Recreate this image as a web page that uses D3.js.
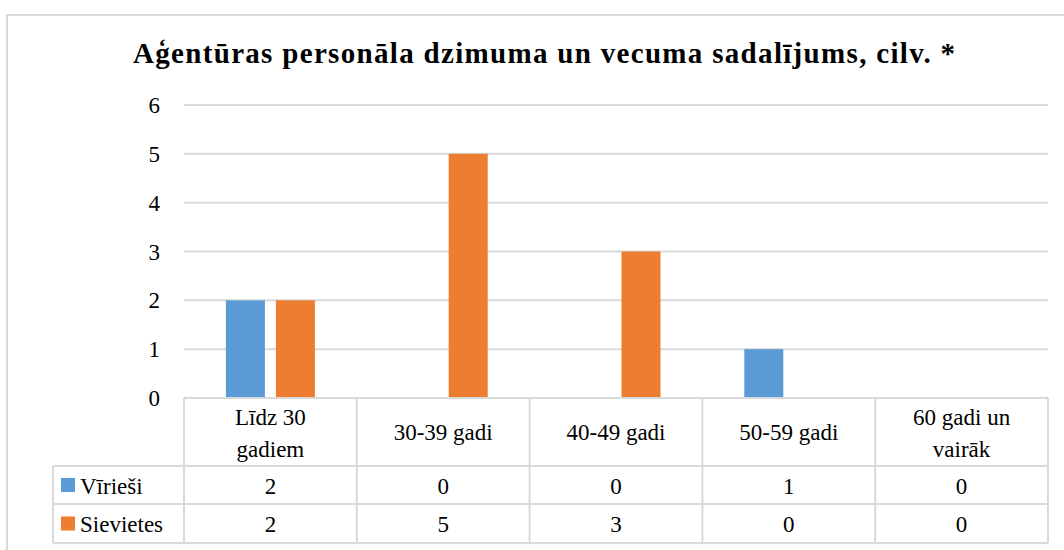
<!DOCTYPE html>
<html><head><meta charset="utf-8">
<script src="https://cdn.jsdelivr.net/npm/d3@7"></script>
<style>body{margin:0;background:#fff;}svg{display:block;}</style>
</head><body>
<script>
const categories = [["Līdz 30","gadiem"],["30-39 gadi"],["40-49 gadi"],["50-59 gadi"],["60 gadi un","vairāk"]];
const seriesNames = ["Vīrieši","Sievietes"];
const virieshi = [2,0,0,1,0];
const sievietes = [2,5,3,0,0];
const yTicks = [0,1,2,3,4,5,6];
const title = "Aģentūras personāla dzimuma un vecuma sadalījums, cilv. *";
const colors = ["#5B9BD5","#ED7D31"];
const series = [virieshi, sievietes];

(function(){
const W = 1064, H = 550;
const FONT = "Liberation Serif, Times New Roman, serif";
const FS = 23;
const svg = d3.select("body").append("svg").attr("width",W).attr("height",H).attr("font-family",FONT);
const grid = "#D9D9D9";
svg.append("rect").attr("x",7).attr("y",15).attr("width",W).attr("height",H).attr("fill","none").attr("stroke",grid).attr("stroke-width",2);

svg.append("text").attr("x",544).attr("y",63).attr("text-anchor","middle")
  .attr("font-weight","bold").attr("font-size",29).attr("fill","#000")
  .attr("textLength",822).attr("lengthAdjust","spacing").text(title);

const pLeft = 184, pRight = 1048, pTop = 105, pBottom = 398;
const x = d3.scaleBand().domain(d3.range(categories.length)).range([pLeft,pRight]);
const y = d3.scaleLinear().domain([0,6]).range([pBottom,pTop]);

svg.append("g").selectAll("line").data(yTicks.filter(d=>d>0)).join("line")
  .attr("x1",pLeft).attr("x2",pRight).attr("y1",d=>y(d)).attr("y2",d=>y(d))
  .attr("stroke",grid).attr("stroke-width",2);
svg.append("g").selectAll("text").data(yTicks).join("text")
  .attr("x",160).attr("y",d=>y(d)+8).attr("text-anchor","end")
  .attr("font-size",FS).attr("fill","#000").text(d=>d);

const barW = 39, gap = 11;
const xs = d3.scaleBand().domain([0,1]).range([0, barW*2+gap]).paddingInner(gap/(barW+gap)).paddingOuter(0);
series.forEach((s,si)=>{
  svg.append("g").selectAll("rect").data(s).join("rect")
    .attr("x",(d,i)=>x(i)+x.bandwidth()/2-(barW*2+gap)/2+xs(si))
    .attr("width",xs.bandwidth())
    .attr("y",d=>y(d)).attr("height",d=>y(0)-y(d))
    .attr("fill",colors[si]);
});

const rowTops = [398,466,504,543];
const legendLeft = 53;
const tg = svg.append("g").attr("stroke",grid).attr("stroke-width",2).attr("fill","none");
tg.append("line").attr("x1",pLeft).attr("x2",pRight).attr("y1",rowTops[0]).attr("y2",rowTops[0]);
[1,2,3].forEach(r=>tg.append("line").attr("x1",legendLeft).attr("x2",pRight).attr("y1",rowTops[r]).attr("y2",rowTops[r]));
tg.append("line").attr("x1",legendLeft).attr("x2",legendLeft).attr("y1",rowTops[1]).attr("y2",rowTops[3]);
d3.range(categories.length+1).forEach(i=>{
  const xx = i<categories.length ? x(i) : pRight;
  tg.append("line").attr("x1",xx).attr("x2",xx).attr("y1",rowTops[0]).attr("y2",rowTops[3]);
});
categories.forEach((c,i)=>{
  const cx = x(i)+x.bandwidth()/2;
  const t = svg.append("text").attr("text-anchor","middle").attr("font-size",FS).attr("fill","#000");
  if(c.length===1){
    t.append("tspan").attr("x",cx).attr("y",440).text(c[0]);
  } else {
    t.append("tspan").attr("x",cx).attr("y",425).text(c[0]);
    t.append("tspan").attr("x",cx).attr("y",457).text(c[1]);
  }
});
const rowBase = [494,532];
series.forEach((s,si)=>{
  const cy = (rowTops[si+1]+rowTops[si+2])/2;
  svg.append("rect").attr("x",61).attr("y",cy-7).attr("width",14).attr("height",14).attr("fill",colors[si]);
  svg.append("text").attr("x",80).attr("y",rowBase[si]).attr("font-size",FS).attr("fill","#000").text(seriesNames[si]);
  svg.append("g").selectAll("text").data(s).join("text")
    .attr("x",(d,i)=>x(i)+x.bandwidth()/2).attr("y",rowBase[si])
    .attr("text-anchor","middle").attr("font-size",FS).attr("fill","#000").text(d=>d);
});
})();
</script>
</body></html>
